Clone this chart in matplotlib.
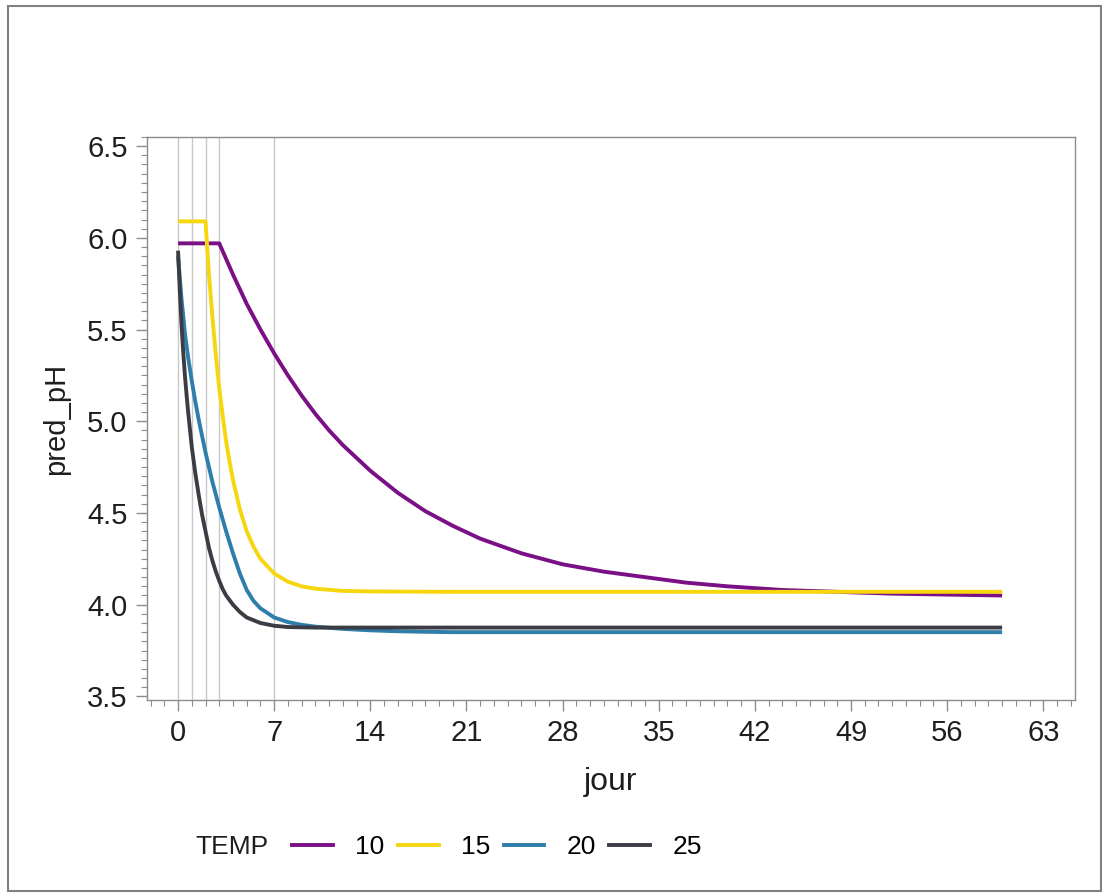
import matplotlib
matplotlib.use('Agg')
import matplotlib.pyplot as plt
from matplotlib.lines import Line2D
from matplotlib.patches import Rectangle
from matplotlib.ticker import MultipleLocator

plt.rcParams['font.family'] = ['Liberation Sans', 'DejaVu Sans']

# pH prediction per temperature
t10 = [0, 3, 4, 5, 6, 7, 8, 9, 10, 11, 12, 13, 14, 16, 18, 20, 22, 25, 28, 31, 34, 37, 40, 44,
       48, 52, 56, 60]
ph10 = [5.97, 5.97, 5.80, 5.64, 5.50, 5.37, 5.25, 5.14, 5.04, 4.95, 4.87, 4.80, 4.73, 4.61,
        4.51, 4.43, 4.36, 4.28, 4.22, 4.18, 4.15, 4.12, 4.10, 4.08, 4.07, 4.06, 4.055, 4.05]

t15 = [0, 2, 2.25, 2.5, 2.75, 3, 3.25, 3.5, 3.75, 4, 4.5, 5, 5.5, 6, 7, 8, 9, 10, 12, 14, 20, 60]
ph15 = [6.09, 6.09, 5.80, 5.57, 5.36, 5.18, 5.03, 4.89, 4.78, 4.68, 4.52, 4.40, 4.315, 4.25,
        4.17, 4.125, 4.10, 4.087, 4.075, 4.072, 4.07, 4.07]

t20 = [0, 0.25, 0.5, 0.75, 1, 1.25, 1.5, 1.75, 2, 2.5, 3, 3.5, 4, 4.5, 5, 5.5, 6, 7, 8, 9, 10,
       12, 14, 16, 18, 20, 60]
ph20 = [5.90, 5.67, 5.48, 5.34, 5.22, 5.11, 5.01, 4.92, 4.83, 4.67, 4.53, 4.40, 4.28, 4.17,
        4.08, 4.02, 3.98, 3.93, 3.905, 3.89, 3.88, 3.868, 3.86, 3.855, 3.852, 3.85, 3.85]

t25 = [0, 0.125, 0.25, 0.375, 0.5, 0.625, 0.75, 0.875, 1, 1.25, 1.5, 1.75, 2, 2.25, 2.5, 2.75,
       3, 3.25, 3.5, 4, 4.5, 5, 6, 7, 8, 10, 60]
ph25 = [5.93, 5.72, 5.53, 5.38, 5.25, 5.14, 5.04, 4.95, 4.86, 4.72, 4.60, 4.49, 4.40, 4.31,
        4.24, 4.18, 4.13, 4.085, 4.05, 4.00, 3.96, 3.93, 3.90, 3.885, 3.878, 3.875, 3.875]

temps = ['10', '15', '20', '25']
colors = ['#7A0F86', '#F5D60F', '#2E7DAA', '#3C3C44']
ref_days = [0, 1, 2, 3, 7]

fig = plt.figure(figsize=(11.02, 8.93), dpi=100)
ax = fig.add_axes([0.1334, 0.2161, 0.842, 0.6305])

for d in ref_days:
    ax.axvline(d, color='#C8C8C8', lw=1.0, zorder=1)

series = [(t10, ph10), (t15, ph15), (t20, ph20), (t25, ph25)]
for (t, p), c in zip(series, colors):
    ax.plot(t, p, color=c, lw=2.8, zorder=3, solid_capstyle='butt', solid_joinstyle='round')

ax.set_xlim(-2.26, 65.3)
ax.set_ylim(3.48, 6.55)
ax.xaxis.set_major_locator(MultipleLocator(7))
ax.xaxis.set_minor_locator(MultipleLocator(1))
ax.yaxis.set_major_locator(MultipleLocator(0.5))
ax.yaxis.set_minor_locator(MultipleLocator(0.05))
ax.yaxis.set_major_formatter(plt.FuncFormatter(lambda v, p: f"{v:.1f}"))

for s in ax.spines.values():
    s.set_color('#8C8C8C')
    s.set_linewidth(1.0)
ax.tick_params(which='major', length=8, width=1, color='#8C8C8C', labelsize=21,
               labelcolor='#1E1E1E', pad=6)
ax.tick_params(which='minor', length=4, width=0.8, color='#8C8C8C')

ax.set_xlabel('jour', fontsize=23, color='#1E1E1E', labelpad=14)
ax.set_ylabel('pred_pH', fontsize=21, color='#1E1E1E', labelpad=12)

# legend along the bottom
handles = [Line2D([], [], color=c, lw=2.8) for c in colors]
fig.text(195 / 1102, 1 - 847 / 893, 'TEMP', fontsize=19, color='#1E1E1E',
         ha='left', va='center')
fig.legend(handles, temps, loc='center left', bbox_to_anchor=(292 / 1102, 1 - 847 / 893),
           ncol=4, frameon=False, handlelength=1.55, handletextpad=0.85,
           columnspacing=0.5, borderpad=0, borderaxespad=0, fontsize=19)

# outer frame
fig.patches.append(Rectangle((8 / 1102, 2 / 893), 1093 / 1102, 885 / 893,
                             transform=fig.transFigure, fill=False,
                             edgecolor='#808080', lw=1.5))

fig.savefig('out.png', dpi=100, facecolor='white')
